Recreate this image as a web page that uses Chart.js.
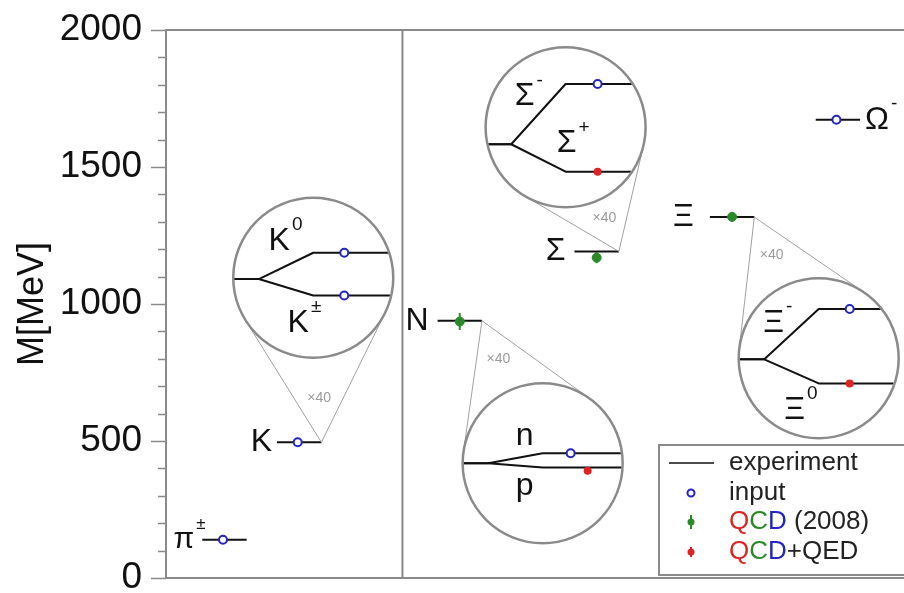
<!DOCTYPE html>
<html>
<head>
<meta charset="utf-8">
<script src="https://cdn.jsdelivr.net/npm/chart.js@4.4.1/dist/chart.umd.min.js"></script>
<style>
  html, body { margin: 0; padding: 0; background: #fff; overflow: hidden; }
  #wrap { width: 912px; height: 593px; position: relative; }
</style>
</head>
<body>
<div id="wrap"><canvas id="massChart"></canvas></div>
<script>
const FONT  = '"Liberation Sans", Arial, Helvetica, sans-serif';
const BLUE  = "#2424bf";
const GREEN = "#2a8a2a";
const RED   = "#dc2424";
const GREY  = "#8a8a8a";
const INK   = "#111";

// ── data ────────────────────────────────────────────────────────────────
const PARTICLES    = ["π", "K", "N", "Σ", "Ξ", "Ω"];
const PARTICLE_SUP = ["±", "", "", "", "", "-"];
const EXP_MASS     = [139.6, 495.2, 938.7, 1191.9, 1317.1, 1672.5];   // experiment
const INPUT_IDX    = [0, 1, 5];                                      // π, K, Ω
const QCD08_IDX    = [2, 3, 4];                                      // N, Σ, Ξ
const QCD08_MASS   = [936, 1169, 1318];
const QCD08_ERR    = [31, 20, 18];

const Y_TICKS      = [0, 500, 1000, 1500, 2000];
const MINOR_STEP   = 100;

// isospin splittings, drawn magnified x40
const MAG          = 40;
const SPLIT_OF     = [1, 2, 3, 4];                      // K, N, Σ, Ξ
const UPPER_NAME   = ["K", "n", "Σ", "Ξ"];
const UPPER_SUP    = ["0", "", "-", "-"];
const UPPER_MASS   = [497.6, 939.6, 1197.4, 1321.7];
const LOWER_NAME   = ["K", "p", "Σ", "Ξ"];
const LOWER_SUP    = ["±", "", "+", "0"];
const LOWER_MASS   = [493.7, 938.3, 1189.4, 1314.9];
const QCDQED_MASS  = [null, 938.0, 1189.4, 1314.9];     // K± is an input

// ── layout ──────────────────────────────────────────────────────────────
const X_SLOT      = [0.79, 1.80, 3.97, 5.82, 7.65, 9.08];
const HALF_W      = 0.30;
const DIVIDER_X   = 3.195;
const LABEL_GAP   = [8, 5, 9, 9, 16, 5];
const INSET_X     = [1.99, 5.09, 5.40, 8.82];
const INSET_Y     = [1096, 419, 1645, 802];
const INSET_SHIFT = [-5, 0, -62, -4];
const INSET_R     = 80;
const MARK_DX     = [[31, 31], [28, 45], [32, 32], [31, 31]];
const LBL_POS     = [[-34, -37, -15, 45], [-18, -27, -18, 23], [-41, -31, 1, 16], [-45, -35, -24, 52]];

function circ(ctx, x, y, r, stroke, fill, lw) {
  ctx.beginPath(); ctx.arc(x, y, r, 0, Math.PI*2);
  if (fill) { ctx.fillStyle = fill; ctx.fill(); }
  if (stroke) { ctx.strokeStyle = stroke; ctx.lineWidth = lw || 2; ctx.stroke(); }
}
function vbar(ctx, x, y0, y1, col) {
  ctx.beginPath(); ctx.moveTo(x, y0); ctx.lineTo(x, y1);
  ctx.strokeStyle = col; ctx.lineWidth = 2; ctx.stroke();
}
function label(ctx, txt, sup, x, y, size, align) {
  ctx.fillStyle = INK; ctx.textBaseline = "middle";
  ctx.font = size + "px " + FONT;
  const w = ctx.measureText(txt).width;
  const left = align === "right" ? x - w : align === "center" ? x - w/2 : x;
  ctx.textAlign = "left";
  ctx.fillText(txt, left, y);
  if (sup) {
    ctx.font = Math.round(size*0.58) + "px " + FONT;
    ctx.fillText(sup, left + w + 2, y - size*0.5);
  }
}

function drawInset(ctx, xs, ys, k) {
  const i  = SPLIT_OF[k];
  const cx = xs.getPixelForValue(INSET_X[k]);
  const cy = ys.getPixelForValue(INSET_Y[k]);
  const r  = INSET_R;
  const px = xs.getPixelForValue(X_SLOT[i] + HALF_W);
  const py = ys.getPixelForValue(EXP_MASS[i]);

  // tangents from the line end to the magnifier
  const a = Math.atan2(py - cy, px - cx), d = Math.hypot(px - cx, py - cy);
  const b = Math.acos(r / d);
  ctx.strokeStyle = "#a0a0a0"; ctx.lineWidth = 1;
  [-1, 1].forEach(s => {
    ctx.beginPath(); ctx.moveTo(px, py);
    ctx.lineTo(cx + r*Math.cos(a + s*b), cy + r*Math.sin(a + s*b)); ctx.stroke();
  });
  ctx.fillStyle = "#9a9a9a"; ctx.font = "14px " + FONT;
  ctx.textAlign = "center"; ctx.textBaseline = "middle";
  ctx.fillText("×40", px + 0.27*(cx - px), py + 0.27*(cy - py));

  circ(ctx, cx, cy, r, GREY, "#fff", 2.5);

  const base = INSET_Y[k] + INSET_SHIFT[k];
  const yOf  = m => ys.getPixelForValue(base + MAG*(m - EXP_MASS[i]));
  const ey = ys.getPixelForValue(base);
  const uy = yOf(UPPER_MASS[k]), ly = yOf(LOWER_MASS[k]);
  ctx.save();
  ctx.beginPath(); ctx.arc(cx, cy, r - 1.3, 0, Math.PI*2); ctx.clip();
  ctx.strokeStyle = INK; ctx.lineWidth = 2; ctx.lineJoin = "round";
  [uy, ly].forEach(yy => {
    ctx.beginPath(); ctx.moveTo(cx - r - 2, ey); ctx.lineTo(cx - 0.68*r, ey);
    ctx.lineTo(cx, yy); ctx.lineTo(cx + r + 2, yy); ctx.stroke();
  });
  ctx.restore();

  circ(ctx, cx + MARK_DX[k][0], uy, 4, BLUE, "#fff", 2);
  if (QCDQED_MASS[k] == null) circ(ctx, cx + MARK_DX[k][1], ly, 4, BLUE, "#fff", 2);
  else circ(ctx, cx + MARK_DX[k][1], yOf(QCDQED_MASS[k]), 4, null, RED);

  const L = LBL_POS[k];
  label(ctx, UPPER_NAME[k], UPPER_SUP[k], cx + L[0], cy + L[1], 32, "center");
  label(ctx, LOWER_NAME[k], LOWER_SUP[k], cx + L[2], cy + L[3], 32, "center");
}

function drawLegend(ctx, ca) {
  const x0 = ca.right - 247, y0 = ca.bottom - 133;
  ctx.fillStyle = "#fff"; ctx.fillRect(x0, y0, 260, 130);
  ctx.strokeStyle = GREY; ctx.lineWidth = 2; ctx.strokeRect(x0, y0, 260, 130);
  const rows = [y0 + 18, y0 + 48, y0 + 77, y0 + 107];
  const mx = x0 + 32, tx = x0 + 70;
  ctx.beginPath(); ctx.moveTo(x0 + 10, rows[0]); ctx.lineTo(x0 + 55, rows[0]);
  ctx.strokeStyle = INK; ctx.lineWidth = 1.5; ctx.stroke();
  circ(ctx, mx, rows[1], 3.5, BLUE, "#fff", 2);
  vbar(ctx, mx, rows[2] - 7, rows[2] + 7, GREEN); circ(ctx, mx, rows[2], 3.5, null, GREEN);
  vbar(ctx, mx, rows[3] - 5, rows[3] + 5, RED);   circ(ctx, mx, rows[3], 3.5, null, RED);

  ctx.font = "26px " + FONT; ctx.textAlign = "left"; ctx.textBaseline = "middle";
  const runs = (y, parts) => {
    let x = tx;
    parts.forEach(([t, c]) => { ctx.fillStyle = c; ctx.fillText(t, x, y); x += ctx.measureText(t).width; });
  };
  runs(rows[0], [["experiment", "#222"]]);
  runs(rows[1], [["input", "#222"]]);
  runs(rows[2], [["Q", RED], ["C", GREEN], ["D", BLUE], [" (2008)", "#222"]]);
  runs(rows[3], [["Q", RED], ["C", GREEN], ["D", BLUE], ["+QED", "#222"]]);
}

const sketch = {
  id: "sketch",
  beforeDatasetsDraw(chart) {
    const { ctx, scales: { x, y } } = chart;
    QCD08_IDX.forEach((i, k) => {
      vbar(ctx, x.getPixelForValue(X_SLOT[i]),
           y.getPixelForValue(QCD08_MASS[k] - QCD08_ERR[k]),
           y.getPixelForValue(QCD08_MASS[k] + QCD08_ERR[k]), GREEN);
    });
  },
  afterDraw(chart) {
    const { ctx, chartArea: ca, scales: { x, y } } = chart;
    ctx.save();
    // frame and divider
    ctx.strokeStyle = GREY; ctx.lineWidth = 2;
    const top = y.getPixelForValue(2000), bot = y.getPixelForValue(0);
    ctx.beginPath();
    ctx.moveTo(ca.left, top); ctx.lineTo(ca.right, top);
    ctx.moveTo(ca.left, bot); ctx.lineTo(ca.right, bot);
    const dx = x.getPixelForValue(DIVIDER_X);
    ctx.moveTo(dx, top); ctx.lineTo(dx, bot);
    ctx.stroke();
    // major / minor ticks
    ctx.lineWidth = 1.5;
    for (let v = 0; v <= 2000; v += MINOR_STEP) {
      const yy = Math.round(y.getPixelForValue(v)) + 0.5;
      const len = Y_TICKS.includes(v) ? 15 : 8;
      ctx.beginPath(); ctx.moveTo(ca.left - len, yy); ctx.lineTo(ca.left, yy); ctx.stroke();
    }
    // particle names
    PARTICLES.forEach((p, i) => {
      const yy = y.getPixelForValue(EXP_MASS[i]);
      if (i === 5) label(ctx, p, PARTICLE_SUP[i], x.getPixelForValue(X_SLOT[i] + HALF_W) + LABEL_GAP[i], yy, 32, "left");
      else label(ctx, p, PARTICLE_SUP[i], x.getPixelForValue(X_SLOT[i] - HALF_W) - LABEL_GAP[i], yy, i === 0 ? 30 : 32, "right");
    });
    SPLIT_OF.forEach((_, k) => drawInset(ctx, x, y, k));
    drawLegend(ctx, ca);
    ctx.restore();
  }
};

const expSets = PARTICLES.map((p, i) => ({
  type: "line", label: "experiment " + p, order: 2,
  data: [{ x: X_SLOT[i] - HALF_W, y: EXP_MASS[i] }, { x: X_SLOT[i] + HALF_W, y: EXP_MASS[i] }],
  borderColor: INK, borderWidth: 2, pointRadius: 0
}));

new Chart(document.getElementById("massChart"), {
  type: "scatter",
  data: {
    datasets: [
      { label: "input", order: 0,
        data: INPUT_IDX.map(i => ({ x: X_SLOT[i] - 0.02, y: EXP_MASS[i] })),
        pointStyle: "circle", pointRadius: 4, borderColor: BLUE, backgroundColor: "#fff", borderWidth: 2 },
      { label: "QCD (2008)", order: 0,
        data: QCD08_IDX.map((i, k) => ({ x: X_SLOT[i], y: QCD08_MASS[k] })),
        pointStyle: "circle", pointRadius: 4.5, borderColor: GREEN, backgroundColor: GREEN, borderWidth: 1 },
      ...expSets
    ]
  },
  options: {
    responsive: true, maintainAspectRatio: false, animation: false,
    layout: { padding: 0 },
    plugins: { legend: { display: false }, tooltip: { enabled: false } },
    scales: {
      x: { type: "linear", min: 0, max: 10, display: false },
      y: {
        min: 0, max: 2000,
        afterFit(s) { s.width = 166; s.paddingTop = 30; s.paddingBottom = 15; },
        afterBuildTicks(s) { s.ticks = Y_TICKS.map(v => ({ value: v })); },
        ticks: { color: INK, padding: 24, font: { family: FONT, size: 37 }, callback: v => String(v) },
        grid: { drawOnChartArea: false, drawTicks: false },
        border: { color: GREY, width: 2 },
        title: { display: true, text: "M[MeV]", color: INK,
                 font: { family: FONT, size: 36 }, padding: { top: 11, bottom: 0 } }
      }
    }
  },
  plugins: [sketch]
});
</script>
</body>
</html>
